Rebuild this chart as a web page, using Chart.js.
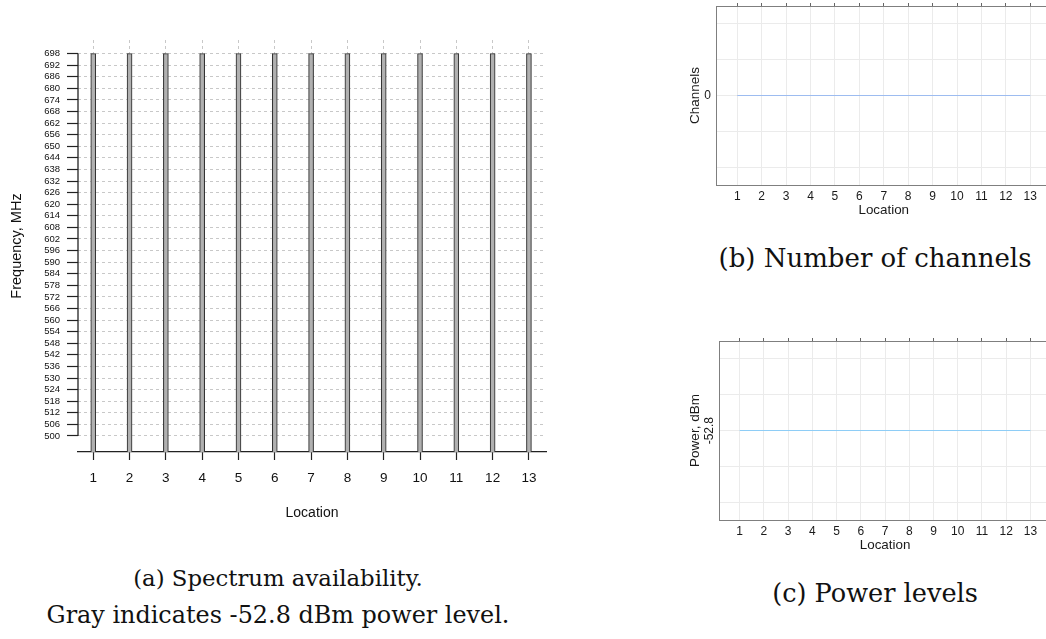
<!DOCTYPE html>
<html>
<head>
<meta charset="utf-8">
<script src="https://cdn.jsdelivr.net/npm/chart.js@4.4.1/dist/chart.umd.min.js"></script>
<style>
    body { margin: 0; width: 1046px; height: 639px; overflow: hidden; background: #fff; position: relative; }
    canvas { position: absolute; }
    .cap { position: absolute; font-family: "DejaVu Serif"; line-height: 34px; color: #111; text-align: center; white-space: nowrap; }
</style>
</head>
<body>
<canvas id="spectrum" width="560" height="540" style="left:0;top:0"></canvas>
<canvas id="channels" width="380" height="239" style="left:680px;top:-14px"></canvas>
<canvas id="power" width="380" height="239" style="left:680px;top:321px"></canvas>

<div class="cap" style="left:0;width:556px;top:561px"><span style="font-size:22.8px">(a) Spectrum availability.</span><br><span style="font-size:23.9px">Gray indicates -52.8 dBm power level.</span></div>
<div class="cap" style="left:700px;width:350px;top:241px;font-size:26px">(b) Number of channels</div>
<div class="cap" style="left:700px;width:350px;top:576px;font-size:25.6px">(c) Power levels</div>

<script>
// ---------------- DATA ----------------
const locations = [1, 2, 3, 4, 5, 6, 7, 8, 9, 10, 11, 12, 13];
// upper edge of the available band (MHz) at each location
const availTop = [698, 698, 698, 698, 698, 698, 698, 698, 698, 698, 698, 698, 698];
const freqTicks = [500, 506, 512, 518, 524, 530, 536, 542, 548, 554, 560, 566, 572, 578, 584, 590, 596,
                   602, 608, 614, 620, 626, 632, 638, 644, 650, 656, 662, 668, 674, 680, 686, 692, 698];
const channels = [0, 0, 0, 0, 0, 0, 0, 0, 0, 0, 0, 0, 0];
const channelTicks = [-0.04, -0.02, 0, 0.02, 0.04];
const channelLabels = [0];
const powerLevels = [-52.8, -52.8, -52.8, -52.8, -52.8, -52.8, -52.8, -52.8, -52.8, -52.8, -52.8, -52.8, -52.8];
const powerTicks = [-52.84, -52.82, -52.8, -52.78, -52.76];
const powerLabels = [-52.8];

const SANS = 'Liberation Sans';

// ---------------- (a) SPECTRUM ----------------
// y axis line only spans the labelled frequency range
const yAxisLine = {
    id: 'yAxisLine',
    afterDraw(chart) {
        const y = chart.scales.y;
        const x = chart.chartArea.left;
        const ctx = chart.ctx;
        ctx.save();
        ctx.strokeStyle = '#222';
        ctx.lineWidth = 1.3;
        ctx.beginPath();
        ctx.moveTo(x, y.getPixelForValue(freqTicks[0]));
        ctx.lineTo(x, y.getPixelForValue(freqTicks[freqTicks.length - 1]));
        ctx.stroke();
        ctx.restore();
    }
};

new Chart(document.getElementById('spectrum'), {
    type: 'bar',
    data: {
        datasets: [{
            data: locations.map((x, i) => ({ x, y: availTop[i] })),
            backgroundColor: '#b0b0b0',
            borderColor: '#333',
            borderWidth: 1.1,
            borderSkipped: 'start',
            barThickness: 5
        }]
    },
    options: {
        responsive: false,
        animation: false,
        layout: { padding: { top: 40, right: 14, left: 0, bottom: 0 } },
        plugins: { legend: { display: false }, tooltip: { enabled: false } },
        scales: {
            x: {
                type: 'linear', min: 0.58, max: 13.47, offset: false,
                afterBuildTicks: s => { s.ticks = locations.map(v => ({ value: v })); },
                grid: { offset: false, color: '#c8c8c8', tickColor: '#222', tickLength: 8, tickWidth: 1.2 },
                border: { color: '#222', width: 1.3, dash: [3, 3] },
                ticks: { font: { family: SANS, size: 13.5 }, color: '#111', padding: 10, autoSkip: false, maxRotation: 0 },
                title: { display: true, text: 'Location', color: '#111', font: { family: SANS, size: 14 }, padding: { top: 0, bottom: 18.6 } },
                afterFit: s => { s.height = 88; }
            },
            y: {
                min: 491.7, max: 705,
                afterBuildTicks: s => { s.ticks = freqTicks.map(v => ({ value: v })); },
                grid: { color: '#c8c8c8', tickColor: '#222', tickLength: 11, tickWidth: 1.2 },
                border: { display: false, dash: [3, 3] },
                ticks: { font: { family: SANS, size: 9.5 }, color: '#111', padding: 7, autoSkip: false },
                title: { display: true, text: 'Frequency, MHz', color: '#111', font: { family: SANS, size: 14.5 }, padding: { top: 8.3, bottom: 0 } },
                afterFit: s => { s.width = 78; }
            }
        }
    },
    plugins: [yAxisLine]
});

// ---------------- (b), (c) LINE PANELS ----------------
function linePanel(id, values, yTicks, yLabels, lineColor, yTitle, axisWidth, rotated) {
    const xTicks = s => { s.ticks = locations.map(v => ({ value: v })); };
    const yTickOpts = { font: { family: SANS, size: 12 }, color: '#1a1a1a', padding: 5.7, autoSkip: false,
        callback: v => (yLabels.includes(v) ? String(v) : '') };
    if (rotated) Object.assign(yTickOpts, { minRotation: 90, maxRotation: 90, labelOffset: -13.5, padding: 10 });

    return new Chart(document.getElementById(id), {
        type: 'line',
        data: {
            datasets: [{
                data: locations.map((x, i) => ({ x, y: values[i] })),
                borderColor: lineColor,
                borderWidth: 1.1,
                pointRadius: 0,
                fill: false
            }]
        },
        options: {
            responsive: false,
            animation: false,
            layout: { padding: { top: 17, right: 9.2, left: 0, bottom: 0 } },
            plugins: { legend: { display: false }, tooltip: { enabled: false } },
            scales: {
                x: {
                    type: 'linear', min: 0.16, max: 13.84,
                    afterBuildTicks: xTicks,
                    grid: { color: '#ebebeb', drawTicks: false },
                    border: { color: '#7f7f7f', width: 1 },
                    ticks: { font: { family: SANS, size: 12 }, color: '#1a1a1a', padding: 4.5, autoSkip: false, maxRotation: 0 },
                    title: { display: true, text: 'Location', color: '#1a1a1a', font: { family: SANS, size: 13.4 }, padding: { top: 0, bottom: 6.3 } },
                    afterFit: s => { s.height = 40; }
                },
                xTop: {
                    type: 'linear', position: 'top', min: 0.16, max: 13.84,
                    afterBuildTicks: xTicks,
                    grid: { drawOnChartArea: false, tickLength: 3, tickColor: '#666' },
                    border: { color: '#7f7f7f', width: 1 },
                    ticks: { display: false }
                },
                y: {
                    min: yTicks[0] - 0.01, max: yTicks[yTicks.length - 1] + 0.01,
                    afterBuildTicks: s => { s.ticks = yTicks.map(v => ({ value: v })); },
                    grid: { color: '#ebebeb', drawTicks: false },
                    border: { color: '#7f7f7f', width: 1 },
                    ticks: yTickOpts,
                    title: { display: true, text: yTitle, color: '#1a1a1a', font: { family: SANS, size: 13.5 }, padding: { top: 7, bottom: 0 } },
                    afterFit: s => { s.width = axisWidth; }
                }
            }
        }
    });
}

linePanel('channels', channels, channelTicks, channelLabels, '#9dbcf0', 'Channels', 36.7, false);
linePanel('power', powerLevels, powerTicks, powerLabels, '#8ecdf6', 'Power, dBm', 39.3, true);
</script>
</body>
</html>
